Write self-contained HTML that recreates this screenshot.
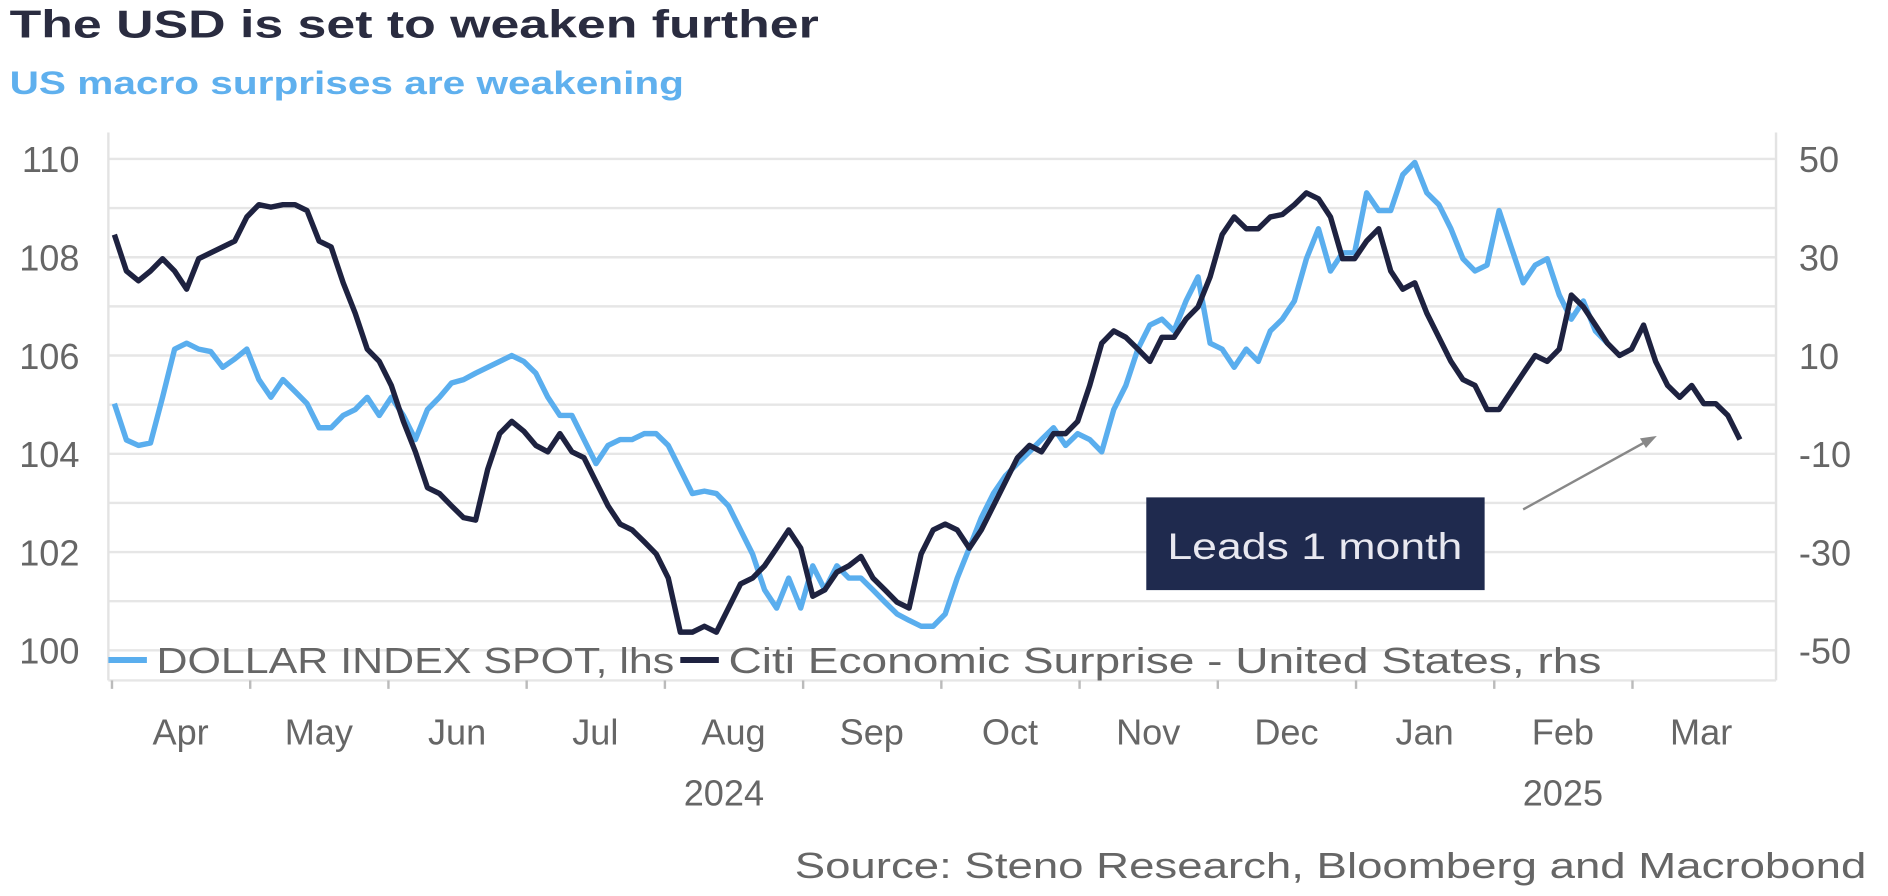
<!DOCTYPE html>
<html><head><meta charset="utf-8"><style>
html,body{margin:0;padding:0;background:#fff;}
svg{display:block;}
text{font-family:"Liberation Sans",sans-serif;}
</style></head><body>
<svg id="chart" width="1888" height="896" viewBox="0 0 1568 744" preserveAspectRatio="none" xmlns="http://www.w3.org/2000/svg">
<text x="8" y="31" font-size="32" font-weight="bold" fill="#2a2c40" textLength="672" lengthAdjust="spacingAndGlyphs">The USD is set to weaken further</text>
<text x="8" y="78" font-size="27" font-weight="bold" fill="#5fb0ee" textLength="560" lengthAdjust="spacingAndGlyphs">US macro surprises are weakening</text>
<g id="grid"></g>
<g id="axes"></g>
<g id="series"></g>
<g>
<line x1="90" y1="548" x2="122" y2="548" stroke="#5aaeee" stroke-width="5"/>
<text x="130" y="559" font-size="30" fill="#666" textLength="430" lengthAdjust="spacingAndGlyphs">DOLLAR INDEX SPOT, lhs</text>
<line x1="565" y1="548" x2="597" y2="548" stroke="#1e2240" stroke-width="5"/>
<text x="605" y="559" font-size="30" fill="#666" textLength="725" lengthAdjust="spacingAndGlyphs">Citi Economic Surprise - United States, rhs</text>
</g>
<rect x="952" y="413" width="281" height="77" fill="#1f2a4e"/>
<text x="1092" y="464" font-size="31" fill="#e8e8f0" text-anchor="middle" textLength="245" lengthAdjust="spacingAndGlyphs">Leads 1 month</text>
<line x1="1265" y1="423" x2="1372" y2="364" stroke="#888" stroke-width="2"/>
<polygon points="1376,362 1362,364 1367,372" fill="#888"/>
<text x="1550" y="729" font-size="30" fill="#666" text-anchor="end" textLength="890" lengthAdjust="spacingAndGlyphs">Source: Steno Research, Bloomberg and Macrobond</text>
</svg>
<script>
const leftTicks=[110,108,106,104,102,100];
const rightTicks=[50,30,10,-10,-30,-50];
const months=["Apr","May","Jun","Jul","Aug","Sep","Oct","Nov","Dec","Jan","Feb","Mar"];
const years=["2024","2025"];
const dxy=[105.02,104.28,104.17,104.22,105.15,106.13,106.25,106.13,106.08,105.76,105.93,106.13,105.51,105.15,105.51,105.27,105.02,104.53,104.53,104.78,104.9,105.15,104.78,105.15,104.78,104.29,104.9,105.15,105.44,105.51,105.64,105.76,105.88,106.0,105.88,105.64,105.15,104.78,104.78,104.29,103.8,104.17,104.29,104.29,104.41,104.41,104.17,103.68,103.19,103.24,103.19,102.94,102.45,101.96,101.23,100.86,101.47,100.86,101.72,101.23,101.72,101.47,101.47,101.23,100.98,100.74,100.61,100.49,100.49,100.74,101.47,102.08,102.7,103.19,103.55,103.8,104.04,104.29,104.53,104.17,104.41,104.29,104.04,104.9,105.39,106.13,106.62,106.74,106.5,107.11,107.6,106.25,106.13,105.76,106.13,105.88,106.5,106.74,107.11,107.97,108.58,107.72,108.09,108.09,109.31,108.95,108.95,109.68,109.93,109.31,109.07,108.58,107.97,107.72,107.84,108.95,108.21,107.48,107.84,107.97,107.23,106.74,107.11,106.5,106.25];
const cesi=[34.6,27.2,25.2,27.2,29.7,27.2,23.5,29.7,30.9,32.1,33.3,38.2,40.7,40.2,40.7,40.7,39.5,33.3,32.1,24.8,18.6,11.3,8.8,3.9,-3.4,-9.6,-16.9,-18.1,-20.6,-23.0,-23.5,-13.2,-5.9,-3.4,-5.4,-8.3,-9.6,-5.9,-9.6,-10.8,-15.7,-20.6,-24.3,-25.5,-27.9,-30.4,-35.3,-46.3,-46.3,-45.1,-46.3,-41.4,-36.5,-35.3,-32.8,-29.2,-25.5,-29.2,-39.0,-37.7,-34.1,-32.8,-30.9,-35.3,-37.7,-40.2,-41.4,-30.4,-25.5,-24.3,-25.5,-29.2,-25.5,-20.6,-15.7,-10.8,-8.3,-9.6,-5.9,-5.9,-3.4,3.9,12.5,15.0,13.7,11.3,8.8,13.7,13.7,17.4,19.9,26.0,34.6,38.2,35.8,35.8,38.2,38.7,40.7,43.1,41.9,38.2,29.7,29.7,33.3,35.8,27.2,23.5,24.8,18.6,13.7,8.8,5.1,3.9,-1.0,-1.0,2.7,6.4,10.0,8.8,11.3,22.3,19.9,16.2,12.5,10.0,11.3,16.2,8.8,3.9,1.5,3.9,0.2,0.2,-2.2,-7.1];

const NS="http://www.w3.org/2000/svg";
const yL=v=>132+(110-v)*40.8;
const yR=v=>132+(50-v)*4.08;
const xI=i=>95+i*10;
const xM=i=>150+i*114.8;
function mk(tag,attrs,parent){const e=document.createElementNS(NS,tag);for(const k in attrs)e.setAttribute(k,attrs[k]);parent.appendChild(e);return e;}
const grid=document.getElementById('grid'),axes=document.getElementById('axes'),ser=document.getElementById('series');
for(let v=110;v>=100;v--){
  const l=mk('line',{x1:90,x2:1475,y1:yL(v),y2:yL(v),stroke:'#e6e6e6','stroke-width':2},grid);
  
  
}
const al=mk('line',{x1:90,x2:90,y1:110,y2:565,stroke:'#e3e3e3','stroke-width':2},axes);


const ar=mk('line',{x1:1475,x2:1475,y1:110,y2:565,stroke:'#e3e3e3','stroke-width':2},axes);


const ax=mk('line',{x1:90,x2:1475,y1:565,y2:565,stroke:'#e6e6e6','stroke-width':2},axes);


leftTicks.forEach(v=>{
  const t=mk('text',{x:66,y:yL(v)+11,'font-size':30,fill:'#666','text-anchor':'end'},axes);t.textContent=v;
  
  
});
rightTicks.forEach(v=>{
  const t=mk('text',{x:1494,y:yR(v)+11,'font-size':30,fill:'#666'},axes);t.textContent=v;
  
  
});
months.forEach((m,i)=>{
  const t=mk('text',{x:xM(i),y:618,'font-size':30,fill:'#666','text-anchor':'middle'},axes);t.textContent=m;
  
  
  const k=mk('line',{x1:xM(i)-57,x2:xM(i)-57,y1:565,y2:572,stroke:'#bbb','stroke-width':2},axes);
  
  
});
[[years[0],xM(4)-8],[years[1],xM(10)]].forEach(([y,x])=>{
  const t=mk('text',{x:x,y:669,'font-size':30,fill:'#666','text-anchor':'middle'},axes);t.textContent=y;
  
  
});
const p1=mk('polyline',{points:dxy.map((v,i)=>xI(i)+','+yL(v)).join(' '),fill:'none',stroke:'#5aaeee','stroke-width':4.5,'stroke-linejoin':'round'},ser);


const p2=mk('polyline',{points:cesi.map((v,i)=>xI(i)+','+yR(v)).join(' '),fill:'none',stroke:'#1e2240','stroke-width':4.5,'stroke-linejoin':'round'},ser);


</script>
</body></html>
